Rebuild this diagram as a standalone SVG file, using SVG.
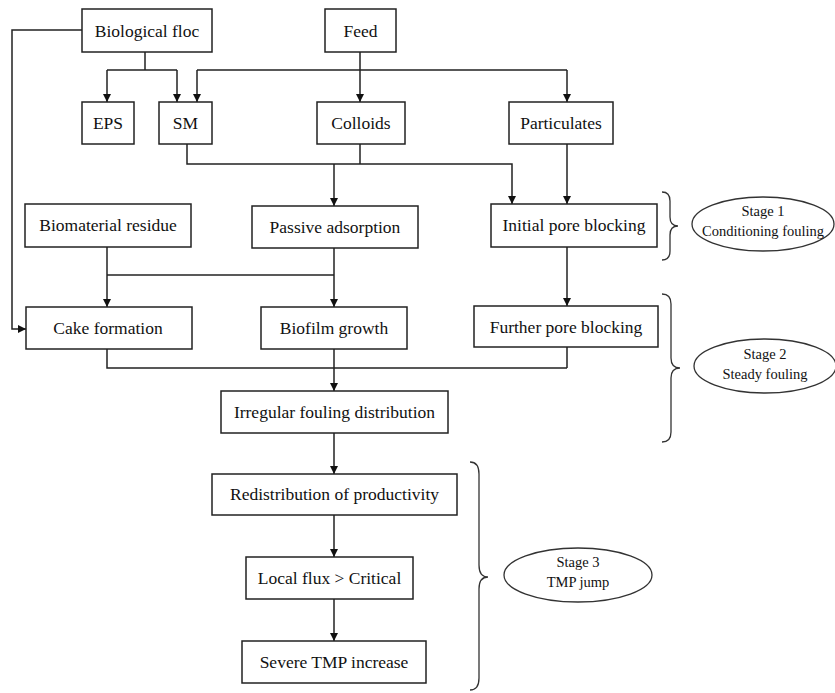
<svg xmlns="http://www.w3.org/2000/svg" width="835" height="693" viewBox="0 0 835 693">
<style>
.box{fill:#fff;stroke:#222;stroke-width:1.5}
.t{font-family:"Liberation Serif","Times New Roman",serif;font-size:17.5px;fill:#111;text-anchor:middle}
.s{font-family:"Liberation Serif","Times New Roman",serif;font-size:14.5px;fill:#111;text-anchor:middle}
.c{fill:none;stroke:#222;stroke-width:1.5}
.a{marker-end:url(#ah)}
.br{fill:none;stroke:#333;stroke-width:1.3}
.el{fill:#fff;stroke:#333;stroke-width:1.3}
</style>
<defs>
<marker id="ah" viewBox="0 0 10 10" refX="10" refY="5" markerWidth="8" markerHeight="8" markerUnits="userSpaceOnUse" orient="auto">
<path d="M0,0 L10,5 L0,10 Z" fill="#111"/>
</marker>
</defs>
<rect width="835" height="693" fill="#fff"/>
<g id="connectors">
<path class="c a" d="M82,30 H12 V329 H26"/>
<path class="c" d="M145,52 V70 M107,70 H177"/>
<path class="c a" d="M107,70 V102"/>
<path class="c a" d="M177,70 V102"/>
<path class="c" d="M360,52 V70 M197,70 H567"/>
<path class="c a" d="M197,70 V102"/>
<path class="c a" d="M360,70 V102"/>
<path class="c a" d="M567,70 V102"/>
<path class="c a" d="M187,144 V164 H512 V204"/>
<path class="c" d="M360,144 V164"/>
<path class="c a" d="M334,164 V206"/>
<path class="c a" d="M567,144 V204"/>
<path class="c a" d="M107,247 V307"/>
<path class="c" d="M107,275 H334"/>
<path class="c a" d="M334,248 V307"/>
<path class="c a" d="M567,247 V306"/>
<path class="c" d="M107,349 V368 H567 M567,347 V368"/>
<path class="c a" d="M334,349 V391"/>
<path class="c a" d="M334,433 V474"/>
<path class="c a" d="M334,515 V557"/>
<path class="c a" d="M334,599 V641"/>
</g>
<g id="bio-floc"><rect class="box" x="82" y="9" width="130" height="43"/><text class="t" x="147" y="37">Biological floc</text></g>
<g id="feed"><rect class="box" x="325" y="9" width="71" height="43"/><text class="t" x="360.5" y="37">Feed</text></g>
<g id="eps"><rect class="box" x="82" y="102" width="52" height="42"/><text class="t" x="108" y="129">EPS</text></g>
<g id="sm"><rect class="box" x="159" y="102" width="53" height="42"/><text class="t" x="185.5" y="129">SM</text></g>
<g id="colloids"><rect class="box" x="317" y="102" width="88" height="42"/><text class="t" x="361" y="129">Colloids</text></g>
<g id="particulates"><rect class="box" x="509" y="102" width="104" height="42"/><text class="t" x="561" y="129">Particulates</text></g>
<g id="biomaterial"><rect class="box" x="25" y="204" width="166" height="43"/><text class="t" x="108" y="231">Biomaterial residue</text></g>
<g id="passive"><rect class="box" x="252" y="206" width="166" height="42"/><text class="t" x="335" y="233">Passive adsorption</text></g>
<g id="initial"><rect class="box" x="491" y="204" width="166" height="43"/><text class="t" x="574" y="231">Initial pore blocking</text></g>
<g id="cake"><rect class="box" x="26" y="307" width="166" height="42"/><text class="t" x="108" y="334">Cake formation</text></g>
<g id="biofilm"><rect class="box" x="261" y="307" width="146" height="42"/><text class="t" x="334" y="334">Biofilm growth</text></g>
<g id="further"><rect class="box" x="474" y="306" width="184" height="41"/><text class="t" x="566" y="333">Further pore blocking</text></g>
<g id="irregular"><rect class="box" x="221" y="391" width="227" height="42"/><text class="t" x="334.5" y="418">Irregular fouling distribution</text></g>
<g id="redistribution"><rect class="box" x="212" y="474" width="245" height="41"/><text class="t" x="334.5" y="500">Redistribution of productivity</text></g>
<g id="local-flux"><rect class="box" x="246" y="557" width="167" height="42"/><text class="t" x="329.5" y="584">Local flux &gt; Critical</text></g>
<g id="severe"><rect class="box" x="242" y="641" width="184" height="42"/><text class="t" x="334" y="668">Severe TMP increase</text></g>
<g id="stage1">
<path class="br" d="M662,192 Q670,192 670,201 V217 Q670,226 678,226 Q670,226 670,235 V251 Q670,260 662,260"/>
<ellipse class="el" cx="763" cy="224" rx="71" ry="27"/>
<text class="s" x="763" y="216">Stage 1</text>
<text class="s" x="763" y="236">Conditioning fouling</text>
</g>
<g id="stage2">
<path class="br" d="M662,294 Q671,294 671,304 V358 Q671,368 680,368 Q671,368 671,378 V432 Q671,442 662,442"/>
<ellipse class="el" cx="765" cy="366" rx="71" ry="27"/>
<text class="s" x="765" y="359">Stage 2</text>
<text class="s" x="765" y="379">Steady fouling</text>
</g>
<g id="stage3">
<path class="br" d="M470,462 Q479,462 479,474 V565 Q479,577 488,577 Q479,577 479,589 V678 Q479,690 470,690"/>
<ellipse class="el" cx="578" cy="575" rx="74" ry="27"/>
<text class="s" x="578" y="567">Stage 3</text>
<text class="s" x="578" y="587">TMP jump</text>
</g>
</svg>
